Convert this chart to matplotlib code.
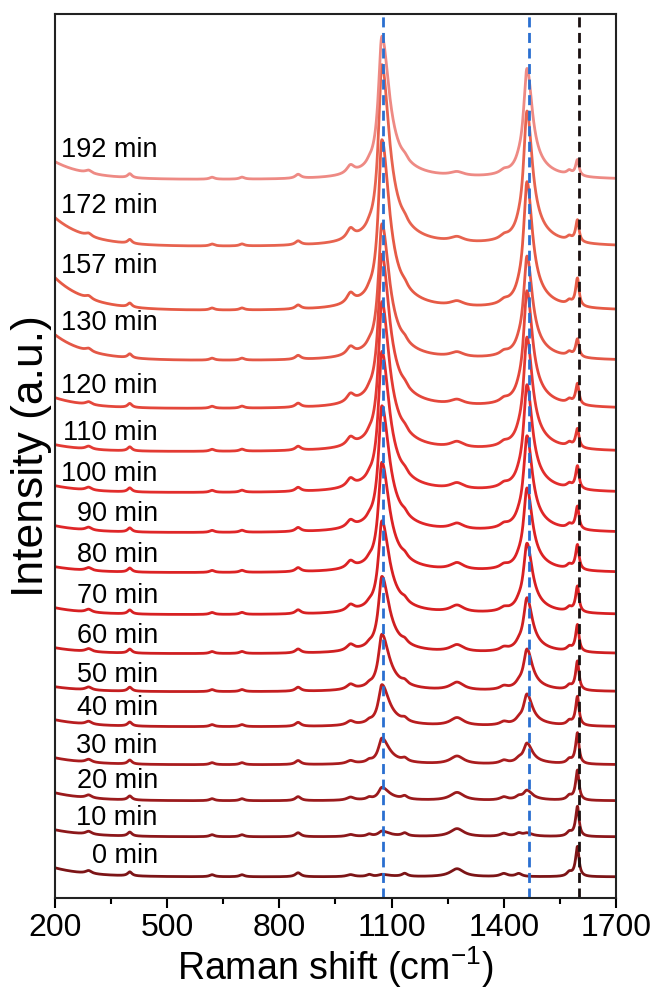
import matplotlib.pyplot as plt
import numpy as np

plt.rcParams['font.family'] = ['Liberation Sans', 'DejaVu Sans']
plt.rcParams['mathtext.default'] = 'regular'

times = ['0 min', '10 min', '20 min', '30 min', '40 min', '50 min', '60 min',
         '70 min', '80 min', '90 min', '100 min', '110 min', '120 min',
         '130 min', '157 min', '172 min', '192 min']

# vertical offset of each spectrum (flat baseline near 1700 cm-1)
offset = [21, 61, 97, 133, 171, 206, 244, 283, 325, 365, 405, 446, 489, 537, 587, 651, 718]
# extra intensity at the low-wavenumber end
left_rise = [9, 7, 8, 7, 7, 5, 6, 7, 6, 7, 7, 7, 11, 26, 33, 29, 18]
# band heights
h1077 = [2, 5, 12, 24, 38, 52, 70, 85, 100, 115, 128, 136, 140, 124, 155, 165, 130]
h1465 = [0, 3, 9, 19, 29, 38, 50, 64, 76, 87, 97, 103, 106, 94, 116, 122, 100]
h1600 = [30, 30, 30, 31, 29, 29, 27, 26, 25, 23, 23, 19, 21, 18, 28, 22, 16]
h990 = [2, 2, 3, 3, 4, 5, 6, 6, 7, 7, 8, 8, 8, 8, 10, 10, 8]
h1275 = [8, 8, 8, 8, 8, 8, 7, 7, 7, 6, 6, 6, 5, 5, 5, 5, 4]

colors = ['#7c1416', '#8c171a', '#9b1a1c', '#a91c1e', '#b81d1f', '#c41e20',
          '#cf1f21', '#d72022', '#dc2224', '#df2628', '#e22d2c', '#e33a33',
          '#e4473b', '#e45746', '#e65a45', '#e7634f', '#ee8a84']

# weak bands present in every spectrum: position, height, half width
weak_pos = [290, 400, 620, 700, 850, 1040, 1135, 1400, 1440, 1575]
weak_h = [3, 4, 2, 2, 4, 2, 3, 3, 3, 4]
weak_w = [10, 7, 8, 8, 9, 8, 9, 12, 10, 8]

marks_blue = [1078, 1467]
mark_black = 1601


def lor(x, x0, h, wl, wr=None):
    if wr is None:
        wr = wl
    w = np.where(x < x0, wl, wr)
    return h / (1 + ((x - x0) / w) ** 2)


x = np.linspace(200, 1700, 1501)


def spectrum(i):
    y = offset[i] + left_rise[i] * np.exp(-(x - 200) / 90)
    y = y + lor(x, 1074, h1077[i], 11, 23) + lor(x, 1080, 0.1 * h1077[i], 70)
    y = y + lor(x, 1462, h1465[i], 11, 17) + lor(x, 1470, 0.1 * h1465[i], 60)
    y = y + lor(x, 1597, h1600[i], 6, 5)
    y = y + lor(x, 990, h990[i], 12) + lor(x, 1275, h1275[i], 22)
    for p, h, w in zip(weak_pos, weak_h, weak_w):
        y = y + lor(x, p, h, w)
    return y


fig, ax = plt.subplots(figsize=(6.57, 9.91), dpi=100)
fig.subplots_adjust(left=0.0837, right=0.9376, top=0.986, bottom=0.094)

for i in range(len(times)):
    y = spectrum(i)
    ax.plot(x, y, color=colors[i], lw=2.0)
    ax.text(475, y[0] + 12, times[i], ha='right', va='center', fontsize=19.5)

for m in marks_blue:
    ax.axvline(m, color='#2a6fd0', lw=2, ls=(0, (3.6, 2)))
ax.axvline(mark_black, color='#1a1010', lw=2, ls=(0, (3.6, 2)))

ax.set_xlim(200, 1700)
ax.set_ylim(0, 884)
ax.set_yticks([])
ax.set_xticks(range(200, 1701, 300))
ax.set_xticks(range(350, 1700, 300), minor=True)
ax.tick_params(axis='x', which='major', direction='out', length=7, width=1.5,
               labelsize=23, pad=4)
ax.tick_params(axis='x', which='minor', direction='out', length=4, width=1.5)
for s in ax.spines.values():
    s.set_linewidth(1.5)
    s.set_color('#222222')

ax.set_xlabel('Raman shift (cm$^{-1}$)', fontsize=27, labelpad=1)
ax.set_ylabel('Intensity (a.u.)', fontsize=32, labelpad=2)

plt.savefig('out.png', dpi=100)
